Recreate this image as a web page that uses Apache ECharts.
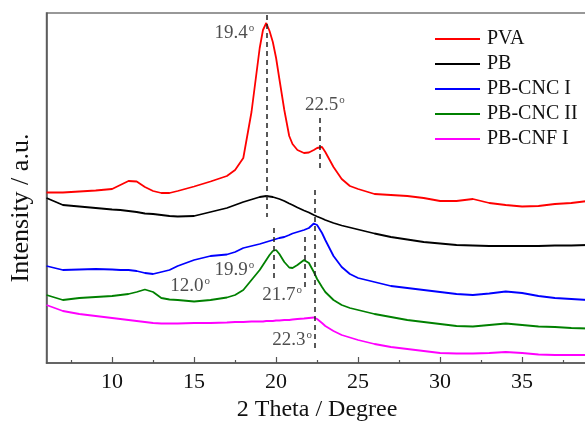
<!DOCTYPE html>
<html>
<head>
<meta charset="utf-8">
<script src="https://cdn.jsdelivr.net/npm/echarts@6/dist/echarts.min.js"></script>
<style>
html, body { margin: 0; padding: 0; overflow: hidden; background: #fff; }
#chart { width: 600px; height: 424px; }
</style>
</head>
<body>
<div id="chart"></div>
<script>
// 2 Theta positions (degree)
var theta = [6, 7, 8, 9, 10, 10.5, 11, 11.5, 12, 12.5, 13, 13.5, 14,
    15, 16, 17, 17.5, 18, 18.5, 19,
    19.2, 19.4, 19.6, 19.8, 20,
    20.2, 20.5, 20.8, 21, 21.3, 21.7, 22, 22.3, 22.5, 22.8, 23,
    23.5, 24, 24.5, 25,
    26, 27, 28, 29, 30, 31, 32, 33, 34, 35, 36, 37, 38, 39];

// intensities (a.u., curves already offset as in the figure)
var pva = [170.5, 170.5, 171.5, 172.5, 174, 178, 182, 181.5, 176, 172, 170, 170, 172,
    176.5, 181.5, 187, 193, 205, 251, 315,
    333, 340, 332, 321, 305,
    284, 253, 227, 219, 213, 210, 210.5, 213, 215, 216, 211,
    196, 184, 177, 174,
    169, 168, 167, 165, 162, 162, 164, 160, 158, 156.5, 157, 159, 160, 162];
var pb = [165, 158, 156.5, 155, 153.5, 153, 152, 151, 149.5, 149, 148, 147, 146.5,
    147, 151, 155, 158, 161, 163.5, 166,
    166.5, 167, 166.5, 166, 165,
    164, 162, 159.5, 158, 155.5, 152.5, 150.5, 148, 146.5, 144.5, 143,
    140, 137.5, 135.5, 133.5,
    129.5, 126, 123.5, 121, 119.5, 118, 117.5, 117, 117, 117, 117, 117.5, 117.5, 118];
var cncI = [97, 93, 93.5, 94, 93.5, 93, 93, 92, 90, 89, 91, 93, 97,
    103, 107, 108.5, 111, 115, 117, 119,
    120, 121, 122, 123, 124,
    125, 126, 128, 129.5, 131, 133, 135, 139.5, 138, 130, 123,
    107, 96, 89, 85,
    81, 77, 75, 73, 71, 69, 68, 69.5, 71.5, 70, 67, 65, 64, 63];
var cncII = [68, 63, 65, 66, 67, 68, 69, 71, 73.5, 71, 65, 63.5, 63,
    61.5, 63, 65.5, 68, 73, 83, 93,
    98, 103, 108, 112, 113,
    109, 101, 95.5, 95, 98, 103, 100, 91, 84, 76, 71,
    63, 58, 55, 53,
    49, 46, 43, 41, 39, 37, 36.5, 38, 39.5, 38, 36.5, 36, 35, 34.5];
var cnfI = [58, 52, 49, 47, 45, 44, 43, 42, 41, 40, 39.5, 39.5, 39.5,
    40, 40, 40.5, 41, 41, 41.5, 41.5,
    41.5, 42, 42, 42, 42.5,
    42.5, 43, 43, 43.5, 44, 44.5, 45, 45.5, 44, 40, 37,
    32, 28, 25.5, 23,
    19, 16, 14, 12, 10, 9.5, 9.5, 10, 11, 10, 8.5, 8, 8, 8];

var names = ['PVA', 'PB', 'PB-CNC I', 'PB-CNC II', 'PB-CNF I'];
var colors = ['#ff0000', '#000000', '#0000ff', '#008000', '#ff00ff'];
var curves = [pva, pb, cncI, cncII, cnfI];

var majorTicks = [10, 15, 20, 25, 30, 35];
var minorTicks = [7.5, 12.5, 17.5, 22.5, 27.5, 32.5, 37.5];

// peak marks: dashed guide lines and their labels
var dashX = [19.4, 22.65, 19.87, 21.76, 22.37];
var dashTop = [348, 245, 135, 126, 173];
var dashBottom = [146, 195, 85, 73, 13];
var annoText = ['19.4', '22.5', '12.0', '19.9', '21.7', '22.3'];
var annoX = [17.45, 22.98, 14.75, 17.45, 20.36, 20.97];
var annoY = [330, 258, 77, 93, 68, 23];

var serif = 'Liberation Serif';

var series = curves.map(function (ys, i) {
    return {
        name: names[i],
        type: 'line',
        symbol: 'none',
        smooth: false,
        lineStyle: { color: colors[i], width: 1.8 },
        itemStyle: { color: colors[i] },
        data: theta.map(function (t, k) { return [t, ys[k]]; })
    };
});

var guide = [];
for (var i = 0; i < dashX.length; i++) {
    guide.push([{ coord: [dashX[i], dashTop[i]] }, { coord: [dashX[i], dashBottom[i]] }]);
}

series.push({
    name: 'peaks',
    type: 'scatter',
    symbolSize: 0,
    silent: true,
    data: annoX.map(function (x, k) { return { value: [x, annoY[k]], name: annoText[k] }; }),
    label: {
        show: true,
        position: 'inside',
        formatter: function (p) { return p.name + '{d|o}'; },
        fontFamily: serif,
        fontSize: 19,
        color: '#222',
        rich: {
            d: { fontFamily: serif, fontSize: 11, color: '#222', verticalAlign: 'top', padding: [0, 0, 10, 1] }
        }
    },
    markLine: {
        silent: true,
        symbol: 'none',
        label: { show: false },
        lineStyle: { type: [5, 4], color: '#222', width: 1.5 },
        data: guide
    }
});

var myChart = echarts.init(document.getElementById('chart'));
var option = {
    animation: false,
    grid: {
        left: 46.5, right: 12.3, top: 13, bottom: 61,
        outerBoundsMode: 'none',
        containLabel: false,
        show: true, borderColor: '#777', borderWidth: 1.5
    },
    legend: {
        data: names,
        orient: 'vertical',
        left: 430,
        top: 24,
        icon: 'rect',
        itemWidth: 45,
        itemHeight: 2,
        itemGap: 5,
        textStyle: { fontFamily: serif, fontSize: 20, lineHeight: 20, color: '#111', padding: [0, 0, 0, 2] }
    },
    xAxis: [{
        type: 'value',
        min: 6,
        max: 39,
        position: 'bottom',
        name: '2 Theta / Degree',
        nameLocation: 'middle',
        nameGap: 30,
        nameTextStyle: { fontFamily: serif, fontSize: 24, color: '#111' },
        axisLine: { show: true, lineStyle: { color: '#555', width: 1.5 } },
        axisTick: { show: true, inside: true, length: 6, customValues: majorTicks, lineStyle: { color: '#555', width: 1.2 } },
        axisLabel: { customValues: majorTicks, fontFamily: serif, fontSize: 22, color: '#111', margin: 8 },
        splitLine: { show: false }
    }, {
        type: 'value',
        min: 6,
        max: 39,
        position: 'bottom',
        axisLine: { show: false },
        axisTick: { show: true, inside: true, length: 3, customValues: minorTicks, lineStyle: { color: '#555', width: 1.2 } },
        axisLabel: { show: false },
        splitLine: { show: false }
    }],
    yAxis: {
        type: 'value',
        min: 0,
        max: 350,
        name: 'Intensity / a.u.',
        nameLocation: 'middle',
        nameGap: 12,
        nameTextStyle: { fontFamily: serif, fontSize: 26, color: '#111', padding: [0, 40, 0, 0] },
        axisLine: { show: true, lineStyle: { color: '#555', width: 1.5 } },
        axisTick: { show: false },
        axisLabel: { show: false },
        splitLine: { show: false }
    },
    series: series
};
myChart.setOption(option);
</script>
</body>
</html>
